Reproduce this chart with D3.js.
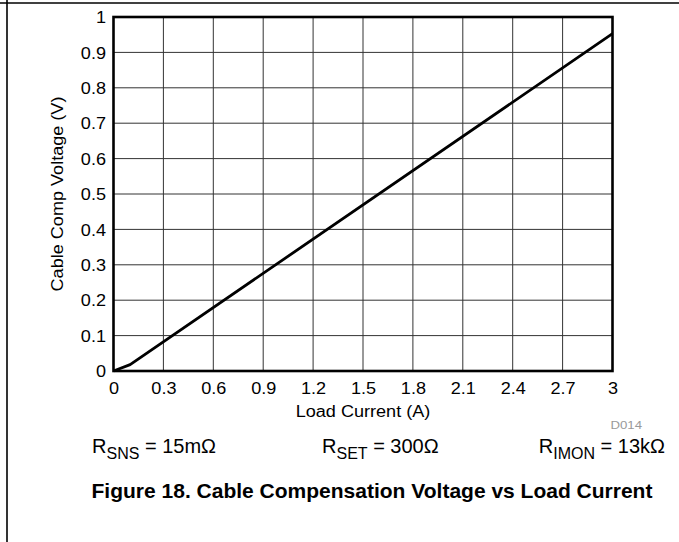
<!DOCTYPE html>
<html><head><meta charset="utf-8">
<script src="https://cdn.jsdelivr.net/npm/d3@7/dist/d3.min.js"></script>
<style>
html,body{margin:0;padding:0;background:#fff;}
svg{display:block;font-family:"Liberation Sans",Arial,Helvetica,sans-serif;}
</style>
</head><body>
<svg id="chart" width="679" height="542"></svg>
<script>
// ---- data ----
const xTickValues = [0, 0.3, 0.6, 0.9, 1.2, 1.5, 1.8, 2.1, 2.4, 2.7, 3];
const xTickLabels = ["0", "0.3", "0.6", "0.9", "1.2", "1.5", "1.8", "2.1", "2.4", "2.7", "3"];
const yTickValues = [0, 0.1, 0.2, 0.3, 0.4, 0.5, 0.6, 0.7, 0.8, 0.9, 1];
const yTickLabels = ["0", "0.1", "0.2", "0.3", "0.4", "0.5", "0.6", "0.7", "0.8", "0.9", "1"];
const loadCurrent = [0, 0.1, 3];          // A
const cableCompVoltage = [0, 0.018, 0.953]; // V
const xTitle = "Load Current (A)";
const yTitle = "Cable Comp Voltage (V)";
const figTitle = "Figure 18. Cable Compensation Voltage vs Load Current";
const noteId = "D014";
const conditions = [
  {main: "R", sub: "SNS", rest: " = 15m\u03A9"},
  {main: "R", sub: "SET", rest: " = 300\u03A9"},
  {main: "R", sub: "IMON", rest: " = 13k\u03A9"}
];

// ---- layout ----
const svg = d3.select("#chart");
const L = 113.5, R = 612.5, T = 17, B = 371;
const SX = 1.13; // horizontal stretch of text

const x = d3.scaleLinear().domain([0, 3]).range([L, R]);
const y = d3.scaleLinear().domain([0, 1]).range([B, T]);

// page border lines
svg.append("line").attr("x1", 7).attr("x2", 7).attr("y1", 0).attr("y2", 542)
  .attr("stroke", "#000").attr("stroke-width", 1.6);
svg.append("line").attr("x1", 0).attr("x2", 679).attr("y1", 3).attr("y2", 3)
  .attr("stroke", "#000").attr("stroke-width", 1.6);

// grid
const grid = svg.append("g");
grid.selectAll("line.v").data(xTickValues).join("line")
  .attr("x1", d => x(d)).attr("x2", d => x(d)).attr("y1", T).attr("y2", B)
  .attr("stroke", "#333").attr("stroke-width", 1);
grid.selectAll("line.h").data(yTickValues).join("line")
  .attr("x1", L).attr("x2", R).attr("y1", d => y(d)).attr("y2", d => y(d))
  .attr("stroke", "#333").attr("stroke-width", 1);

// axes (labels only)
const xAxis = svg.append("g").attr("transform", `translate(0,${B})`)
  .call(d3.axisBottom(x).tickValues(xTickValues).tickFormat((d, i) => xTickLabels[i]).tickSize(0));
xAxis.select(".domain").remove();
xAxis.selectAll("text").attr("y", 23).attr("dy", null)
  .attr("font-size", 16).attr("fill", "#000").attr("font-family", "Liberation Sans, Arial, sans-serif")
  .attr("transform", `scale(${SX},1)`);

const yAxis = svg.append("g").attr("transform", `translate(${L},0)`)
  .call(d3.axisLeft(y).tickValues(yTickValues).tickFormat((d, i) => yTickLabels[i]).tickSize(0));
yAxis.select(".domain").remove();
yAxis.selectAll("text").attr("x", -7.5 / SX).attr("dy", "0.35em")
  .attr("font-size", 16).attr("fill", "#000").attr("font-family", "Liberation Sans, Arial, sans-serif")
  .attr("transform", `scale(${SX},1)`);

// data line
const pts = loadCurrent.map((v, i) => [v, cableCompVoltage[i]]);
svg.append("path").datum(pts)
  .attr("d", d3.line().x(d => x(d[0])).y(d => y(d[1])))
  .attr("fill", "none").attr("stroke", "#000").attr("stroke-width", 2.8)
  .attr("stroke-linejoin", "round");

// frame
svg.append("rect").attr("x", L).attr("y", T).attr("width", R - L).attr("height", B - T)
  .attr("fill", "none").attr("stroke", "#000").attr("stroke-width", 2.6);

// axis titles
svg.append("text").attr("transform", `translate(${(L + R) / 2},417) scale(${SX},1)`)
  .attr("text-anchor", "middle").attr("font-size", 16).text(xTitle);
svg.append("text").attr("transform", `translate(63,${(T + B) / 2}) rotate(-90) scale(${SX},1)`)
  .attr("text-anchor", "middle").attr("font-size", 16).text(yTitle);

// note id
svg.append("text").attr("transform", `translate(642,429) scale(1.15,1)`)
  .attr("text-anchor", "end").attr("font-size", 11.5).attr("fill", "#999").text(noteId);

// conditions
const condX = [92, 322, null];
conditions.forEach((c, i) => {
  const t = svg.append("text").attr("y", 453).attr("font-size", 20).attr("fill", "#000");
  if (i === 2) t.attr("x", 665).attr("text-anchor", "end");
  else t.attr("x", condX[i]);
  t.append("tspan").text(c.main);
  t.append("tspan").attr("font-size", 16).attr("dy", 6).text(c.sub);
  t.append("tspan").attr("dy", -6).text(c.rest);
});

// figure title
svg.append("text").attr("x", 372).attr("y", 498).attr("text-anchor", "middle")
  .attr("font-size", 21).attr("font-weight", "bold").attr("fill", "#000").text(figTitle);
</script>
</body></html>
